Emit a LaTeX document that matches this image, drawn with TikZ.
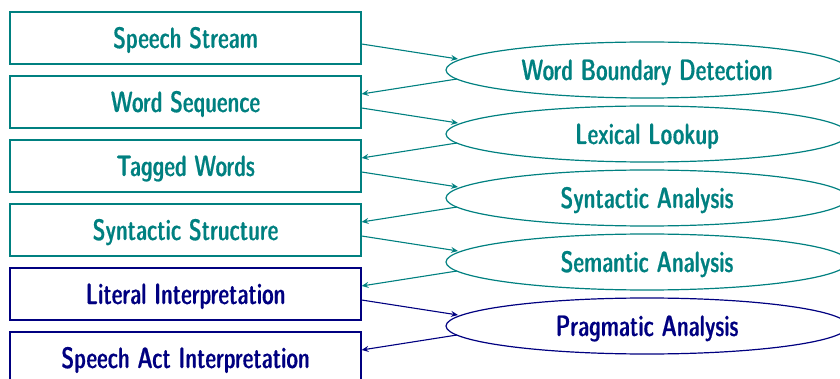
\documentclass[tikz,border=0pt]{standalone}
\usepackage{fontspec}
\newfontfamily\lmdc[FakeBold=0.6]{lmsansdemicond10-regular.otf}
\usetikzlibrary{calc,shapes.geometric,arrows.meta}
\definecolor{tealc}{RGB}{0,128,128}
\definecolor{navyc}{RGB}{0,0,128}
\newcommand{\stretchtxt}[1]{\scalebox{0.97}[1.18]{#1}}
\begin{document}
\begin{tikzpicture}[x=1pt,y=1pt,
  lbl/.style={font=\lmdc\fontsize{25}{30}\selectfont, text height=20pt, text depth=0pt},
  box/.style={lbl, draw, rectangle, minimum width=351pt, minimum height=52pt, inner sep=0pt, line width=1.2pt},
  proc/.style={lbl, draw, ellipse, minimum width=402pt, minimum height=56pt, inner sep=0pt, line width=1.2pt},
  conn/.style={-{Stealth[length=7pt,width=6pt,inset=2.5pt]}, line width=1.1pt}]
\useasboundingbox (0,0) rectangle (840,-379);
\node[box, tealc] (b1) at (185.5,-38) {\stretchtxt{Speech Stream}};
\node[box, tealc] (b2) at (185.5,-102) {\stretchtxt{Word Sequence}};
\node[box, tealc] (b3) at (185.5,-166) {\stretchtxt{Tagged Words}};
\node[box, tealc] (b4) at (185.5,-230) {\stretchtxt{Syntactic Structure}};
\node[box, navyc] (b5) at (185.5,-294) {\stretchtxt{Literal Interpretation}};
\node[box, navyc] (b6) at (185.5,-358) {\stretchtxt{Speech Act Interpretation}};
\node[proc, tealc] (e1) at (647,-70) {\stretchtxt{Word Boundary Detection}};
\node[proc, tealc] (e2) at (647,-134) {\stretchtxt{Lexical Lookup}};
\node[proc, tealc] (e3) at (647,-198) {\stretchtxt{Syntactic Analysis}};
\node[proc, tealc] (e4) at (647,-262) {\stretchtxt{Semantic Analysis}};
\node[proc, navyc] (e5) at (647,-326) {\stretchtxt{Pragmatic Analysis}};
\foreach \i/\j/\c in {1/2/tealc,2/3/tealc,3/4/tealc,4/5/tealc,5/6/navyc}{
  \draw[conn, \c] ($(b\i.east)+(0,-6)$) -- ($(e\i.center)+(-189,11)$);
  \draw[conn, \c] ($(e\i.center)+(-190,-9)$) -- ($(b\j.east)+(0,8)$);
}
\end{tikzpicture}
\end{document}
